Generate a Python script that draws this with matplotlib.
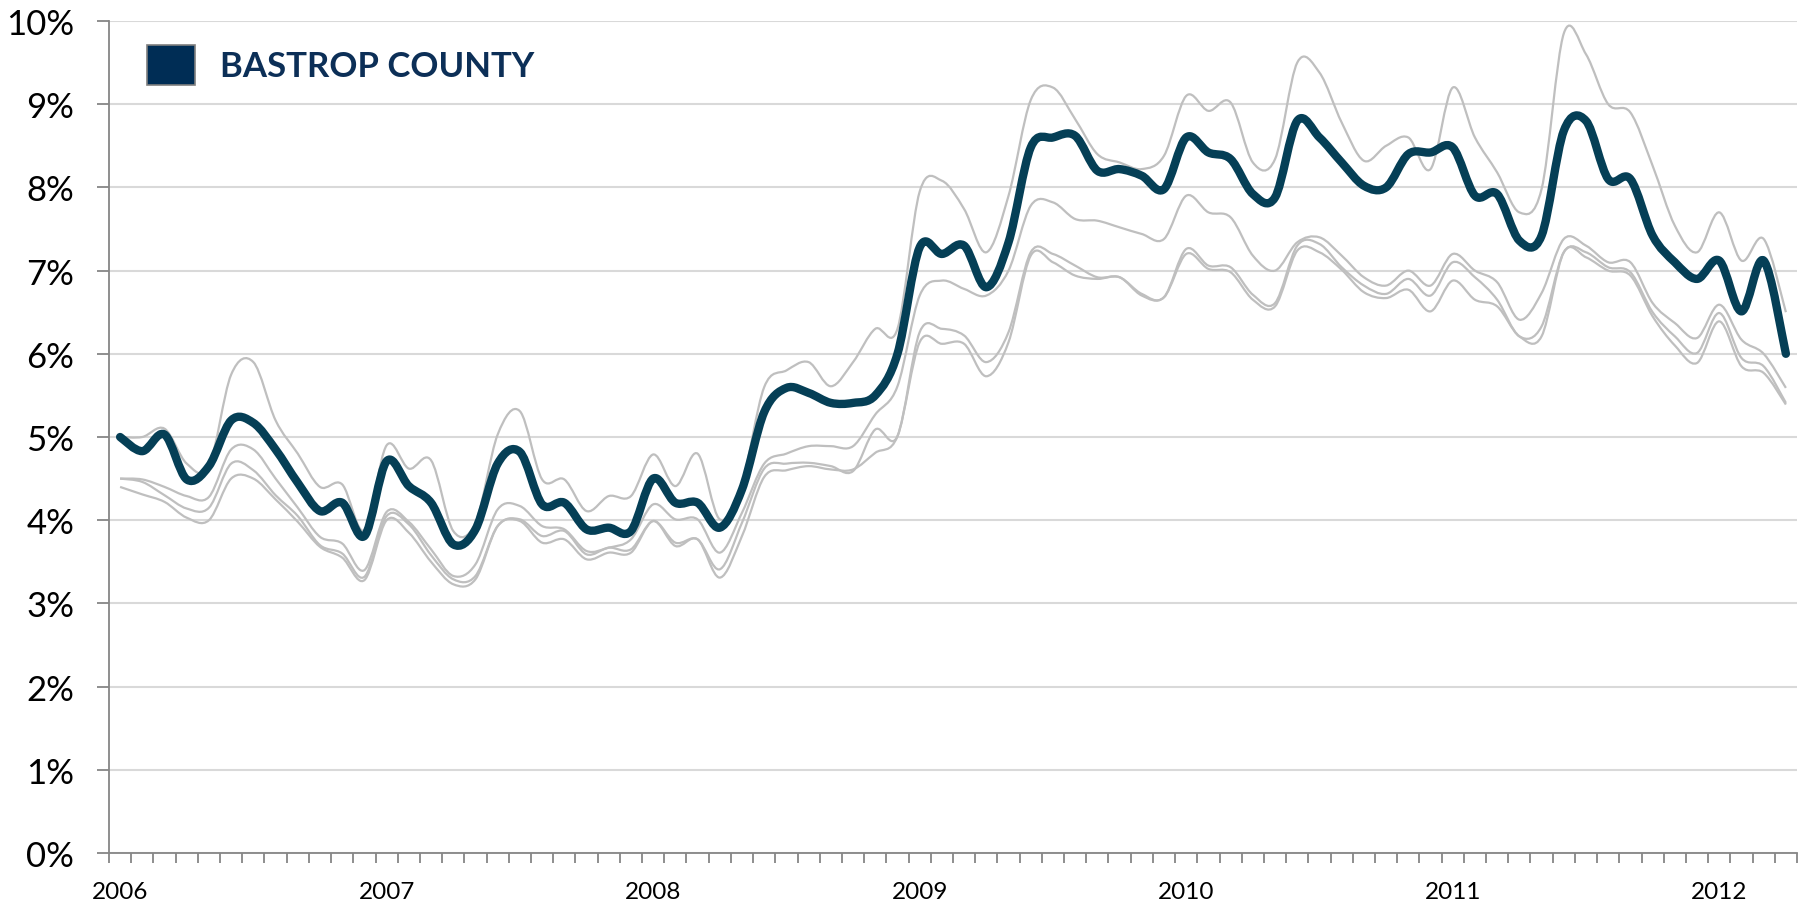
import numpy as np
import matplotlib
matplotlib.use("Agg")
import matplotlib.pyplot as plt
from matplotlib.path import Path
from matplotlib.patches import PathPatch, Patch
from matplotlib.ticker import FixedLocator, FuncFormatter

plt.rcParams['font.family'] = ['Lato', 'DejaVu Sans']

# monthly unemployment rate (%), Jan 2006 .. Apr 2012
bastrop = [5.0, 4.83, 5.03, 4.49, 4.65, 5.2, 5.17, 4.85, 4.45, 4.11, 4.21, 3.81,
           4.71, 4.41, 4.21, 3.71, 3.89, 4.68, 4.82, 4.19, 4.21, 3.89, 3.91, 3.87,
           4.5, 4.21, 4.21, 3.91, 4.37, 5.3, 5.59, 5.53, 5.41, 5.41, 5.5, 6.0,
           7.28, 7.2, 7.3, 6.8, 7.34, 8.48, 8.6, 8.62, 8.2, 8.22, 8.14, 7.98,
           8.6, 8.42, 8.34, 7.92, 7.88, 8.8, 8.6, 8.3, 8.02, 8.0, 8.4, 8.42,
           8.48, 7.9, 7.92, 7.36, 7.42, 8.68, 8.8, 8.1, 8.1, 7.42, 7.1, 6.9,
           7.12, 6.51, 7.12, 6.0]

other_1 = [5.0, 5.0, 5.1, 4.68, 4.65, 5.75, 5.9, 5.2, 4.8, 4.4, 4.43, 3.88,
           4.9, 4.62, 4.72, 3.87, 3.97, 5.03, 5.31, 4.49, 4.49, 4.11, 4.29, 4.29,
           4.79, 4.41, 4.8, 4.01, 4.45, 5.6, 5.8, 5.9, 5.61, 5.9, 6.3, 6.3,
           7.95, 8.08, 7.74, 7.22, 7.9, 9.05, 9.2, 8.82, 8.4, 8.3, 8.22, 8.38,
           9.1, 8.92, 9.02, 8.3, 8.34, 9.5, 9.38, 8.78, 8.32, 8.5, 8.6, 8.22,
           9.2, 8.6, 8.18, 7.7, 7.98, 9.85, 9.6, 9.0, 8.9, 8.26, 7.54, 7.22,
           7.7, 7.12, 7.38, 6.5]

other_2 = [4.5, 4.49, 4.4, 4.29, 4.28, 4.85, 4.85, 4.5, 4.15, 3.8, 3.72, 3.4,
           4.1, 3.98, 3.65, 3.33, 3.47, 4.13, 4.17, 3.93, 3.89, 3.63, 3.67, 3.77,
           4.19, 4.01, 4.01, 3.61, 4.09, 4.68, 4.8, 4.89, 4.89, 4.89, 5.27, 5.61,
           6.7, 6.88, 6.78, 6.7, 7.0, 7.78, 7.82, 7.62, 7.6, 7.52, 7.44, 7.38,
           7.9, 7.7, 7.64, 7.18, 7.0, 7.34, 7.4, 7.18, 6.92, 6.82, 7.0, 6.82,
           7.2, 7.0, 6.86, 6.41, 6.73, 7.38, 7.3, 7.1, 7.1, 6.61, 6.37, 6.19,
           6.59, 6.17, 6.0, 5.59]

other_3 = [4.5, 4.46, 4.3, 4.14, 4.15, 4.68, 4.6, 4.3, 4.05, 3.7, 3.6, 3.32,
           4.05, 3.95, 3.58, 3.29, 3.33, 3.93, 4.01, 3.81, 3.87, 3.59, 3.67, 3.65,
           3.99, 3.73, 3.77, 3.41, 3.97, 4.62, 4.68, 4.69, 4.65, 4.59, 5.09, 5.01,
           6.26, 6.3, 6.22, 5.9, 6.26, 7.22, 7.2, 7.06, 6.92, 6.92, 6.72, 6.68,
           7.26, 7.06, 7.04, 6.71, 6.61, 7.3, 7.32, 7.04, 6.82, 6.72, 6.9, 6.7,
           7.1, 6.92, 6.65, 6.21, 6.33, 7.22, 7.22, 7.04, 6.98, 6.5, 6.21, 6.01,
           6.49, 5.95, 5.85, 5.41]

other_4 = [4.4, 4.31, 4.22, 4.03, 4.0, 4.5, 4.5, 4.25, 3.98, 3.68, 3.55, 3.28,
           4.0, 3.85, 3.5, 3.23, 3.29, 3.93, 3.99, 3.73, 3.77, 3.53, 3.61, 3.61,
           3.99, 3.69, 3.77, 3.31, 3.81, 4.52, 4.6, 4.65, 4.61, 4.61, 4.81, 5.01,
           6.14, 6.12, 6.12, 5.73, 6.14, 7.18, 7.1, 6.94, 6.9, 6.92, 6.7, 6.68,
           7.2, 7.02, 6.98, 6.65, 6.57, 7.24, 7.22, 7.01, 6.74, 6.67, 6.77, 6.51,
           6.88, 6.65, 6.57, 6.21, 6.21, 7.22, 7.16, 7.0, 6.94, 6.45, 6.1, 5.89,
           6.39, 5.85, 5.77, 5.39]

years = ['2006', '2007', '2008', '2009', '2010', '2011', '2012']
legend_label = 'BASTROP COUNTY'


def smooth_path(y):
    """Excel-style smoothed line: cubic Bezier through every monthly point."""
    pts = np.column_stack([np.arange(len(y)), np.asarray(y, dtype=float)])
    n = len(pts)
    verts = [pts[0]]
    codes = [Path.MOVETO]
    for i in range(n - 1):
        p0 = pts[i - 1] if i > 0 else pts[i]
        p1, p2 = pts[i], pts[i + 1]
        p3 = pts[i + 2] if i + 2 < n else pts[i + 1]
        verts += [p1 + (p2 - p0) / 6.0, p2 - (p3 - p1) / 6.0, p2]
        codes += [Path.CURVE4] * 3
    return Path(verts, codes)


fig = plt.figure(figsize=(18.02, 9.04), dpi=100)
ax = fig.add_axes([109 / 1802, 50 / 904, 1688 / 1802, 832 / 904])

for s in [other_4, other_3, other_2, other_1]:
    ax.add_patch(PathPatch(smooth_path(s), fill=False, edgecolor='#BFBFBF', lw=1.6))
ax.add_patch(PathPatch(smooth_path(bastrop), fill=False, edgecolor='#053F56', lw=6,
                       capstyle='round', joinstyle='round', zorder=3))

n = len(bastrop)
ax.set_xlim(-0.5, n - 0.5)
ax.set_ylim(0, 10)

ax.yaxis.set_major_locator(FixedLocator(range(0, 11)))
ax.yaxis.set_major_formatter(FuncFormatter(lambda v, p: '%d%%' % v))
ax.grid(axis='y', color='#D9D9D9', lw=1.5)
ax.set_axisbelow(True)

ax.set_xticks(range(0, n, 12))
ax.set_xticklabels(years)
ax.set_xticks(np.arange(-0.5, n, 1), minor=True)
ax.tick_params(axis='x', which='major', length=0, labelsize=17.5, pad=20)
ax.tick_params(axis='x', which='minor', length=7, width=1.3, color='#868686', direction='out')
ax.tick_params(axis='y', length=9, width=1.3, color='#868686', labelsize=25, pad=16)

for side in ['top', 'right']:
    ax.spines[side].set_visible(False)
for side in ['left', 'bottom']:
    ax.spines[side].set_color('#868686')
    ax.spines[side].set_linewidth(1.3)

handle = Patch(facecolor='#002D55', edgecolor='#7F7F7F', lw=1.2)
leg = ax.legend([handle], [legend_label], loc='upper left',
                bbox_to_anchor=(147 / 1802, 1 - 46 / 904), bbox_transform=fig.transFigure,
                frameon=False, borderpad=0, borderaxespad=0,
                handlelength=1.38, handleheight=1.38, handletextpad=0.72,
                prop={'weight': 'bold', 'size': 25}, labelcolor='#0C2F57')

fig.savefig('out.png', dpi=100)
